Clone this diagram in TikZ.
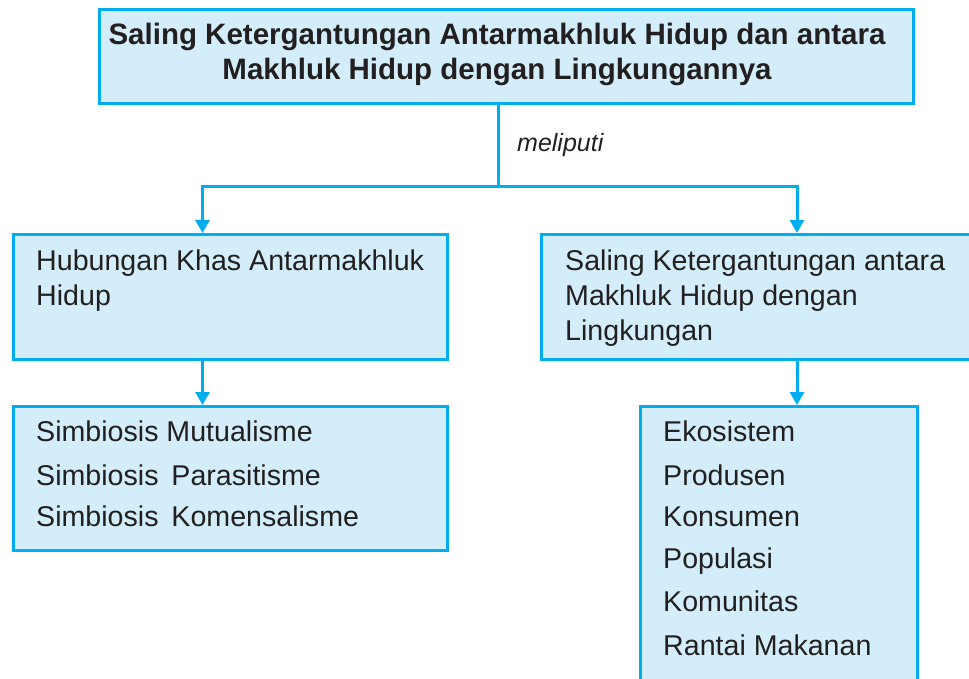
\documentclass[tikz,border=0pt]{standalone}
\usepackage{fontspec}
\setmainfont{Liberation Sans}
\usetikzlibrary{arrows.meta}
\definecolor{bordercol}{HTML}{00AEEF}
\definecolor{fillcol}{HTML}{D3EEFA}
\definecolor{textcol}{HTML}{231F20}
\tikzset{
  box/.style={draw=bordercol, fill=fillcol, line width=3pt, rectangle, inner sep=0pt, anchor=north west},
  txt/.style={inner sep=0pt, anchor=base west, text=textcol, font=\fontsize{28.6}{34}\selectfont},
  ttl/.style={inner sep=0pt, anchor=base, text=textcol, font=\fontsize{29.5}{35}\selectfont\bfseries},
  conn/.style={draw=bordercol, line width=3pt, line join=miter},
  tip/.style={-{Triangle[width=14pt,length=13pt]}}
}
\begin{document}
\begin{tikzpicture}[x=1pt,y=1pt]
\useasboundingbox (0,0) rectangle (969,-679);
% boxes
\node[box, minimum width=814pt, minimum height=94pt] (top) at (98,-8) {};
\node[box, minimum width=434pt, minimum height=125pt] (hub) at (12,-233) {};
\node[box, minimum width=440pt, minimum height=125pt] (sal) at (540,-233) {};
\node[box, minimum width=434pt, minimum height=144pt] (sim) at (12,-405) {};
\node[box, minimum width=277pt, minimum height=290pt] (eko) at (638.5,-405) {};
% title
\node[ttl] (t1) at (497,-45) {Saling Ketergantungan Antarmakhluk Hidup dan antara};
\node[ttl] (t2) at (497,-80) {Makhluk Hidup dengan Lingkungannya};
% label
\node[txt, font=\fontsize{25}{30}\selectfont\itshape] (mel) at (517,-152) {meliputi};
% box texts
\node[txt] (h1) at (36,-270) {Hubungan Khas Antarmakhluk};
\node[txt] (h2) at (36,-305) {Hidup};
\node[txt] (s1) at (565,-270) {Saling Ketergantungan antara};
\node[txt] (s2) at (565,-305) {Makhluk Hidup dengan};
\node[txt] (s3) at (565,-340) {Lingkungan};
\node[txt] (m1) at (36,-441.7) {Simbiosis Mutualisme};
\node[txt] (m2) at (36,-485) {Simbiosis\hspace{5pt} Parasitisme};
\node[txt] (m3) at (36,-526.7) {Simbiosis\hspace{5pt} Komensalisme};
\node[txt] (e1) at (663,-441.7) {Ekosistem};
\node[txt] (e2) at (663,-485) {Produsen};
\node[txt] (e3) at (663,-526.7) {Konsumen};
\node[txt] (e4) at (663,-568.3) {Populasi};
\node[txt] (e5) at (663,-611.7) {Komunitas};
\node[txt] (e6) at (663,-655) {Rantai Makanan};
% connectors
\coordinate (split) at (498,-186.5);
\coordinate (jl) at (202.5,-186.5);
\coordinate (jr) at (797,-186.5);
\draw[conn] (top.south -| split) -- (split);
\draw[conn, {Triangle[width=14pt,length=13pt]}-{Triangle[width=14pt,length=13pt]}] (jl |- hub.north) -- (jl) -- (jr) -- (jr |- sal.north);
\draw[conn, tip] (jl |- hub.south) -- (jl |- sim.north);
\draw[conn, tip] (jr |- sal.south) -- (jr |- eko.north);
\end{tikzpicture}
\end{document}
